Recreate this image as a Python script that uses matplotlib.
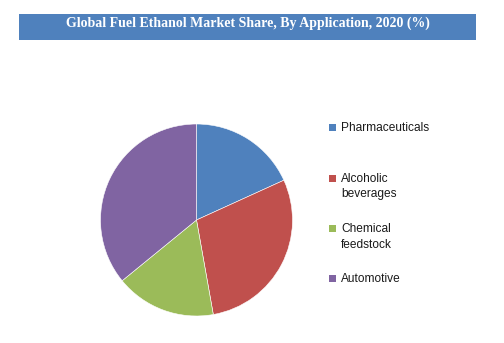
import matplotlib
matplotlib.use("Agg")
import matplotlib.pyplot as plt
from matplotlib.patches import Rectangle

# Application shares, clockwise from 12 o'clock
labels = ["Pharmaceuticals", "Alcoholic\nbeverages", "Chemical\nfeedstock", "Automotive"]
shares = [18.2, 29.0, 16.9, 35.9]
colors = ["#4F81BD", "#C0504D", "#9BBB59", "#8064A2"]
title = "Global Fuel Ethanol Market Share, By Application, 2020 (%)"

W, H = 504, 343
fig = plt.figure(figsize=(W / 100, H / 100), dpi=100)

# title banner
fig.patches.append(Rectangle((19 / W, 1 - 40 / H), 457 / W, 26 / H,
                             transform=fig.transFigure, facecolor="#4F81BD",
                             edgecolor="none"))
fig.text(247.5 / W, 1 - 23.5 / H, title, ha="center", va="center", color="white",
         fontsize=10.0, fontweight="bold", family="Liberation Serif")

# pie
cx, cy, r = 196.5, 220, 96
ax = fig.add_axes([(cx - r) / W, 1 - (cy + r) / H, 2 * r / W, 2 * r / H])
ax.pie(shares, colors=colors, startangle=90, counterclock=False, radius=1,
       wedgeprops=dict(edgecolor="white", linewidth=0.4))
ax.set_xlim(-1, 1)
ax.set_ylim(-1, 1)
ax.set_aspect("auto")
ax.axis("off")

# legend drawn by hand so the marker sits on the first line
rows = [127.5, 178, 228.5, 278]
for lab, col, y in zip(labels, colors, rows):
    fig.patches.append(Rectangle((328.5 / W, 1 - (y + 3.5) / H), 7 / W, 7 / H,
                                 transform=fig.transFigure, facecolor=col,
                                 edgecolor="none"))
    fig.text(341 / W, 1 - (y - 5.5) / H, lab, ha="left", va="top",
             fontsize=8.6, family="Liberation Sans", color="#1a1a1a",
             linespacing=1.4)

fig.savefig("out.png", dpi=100)
